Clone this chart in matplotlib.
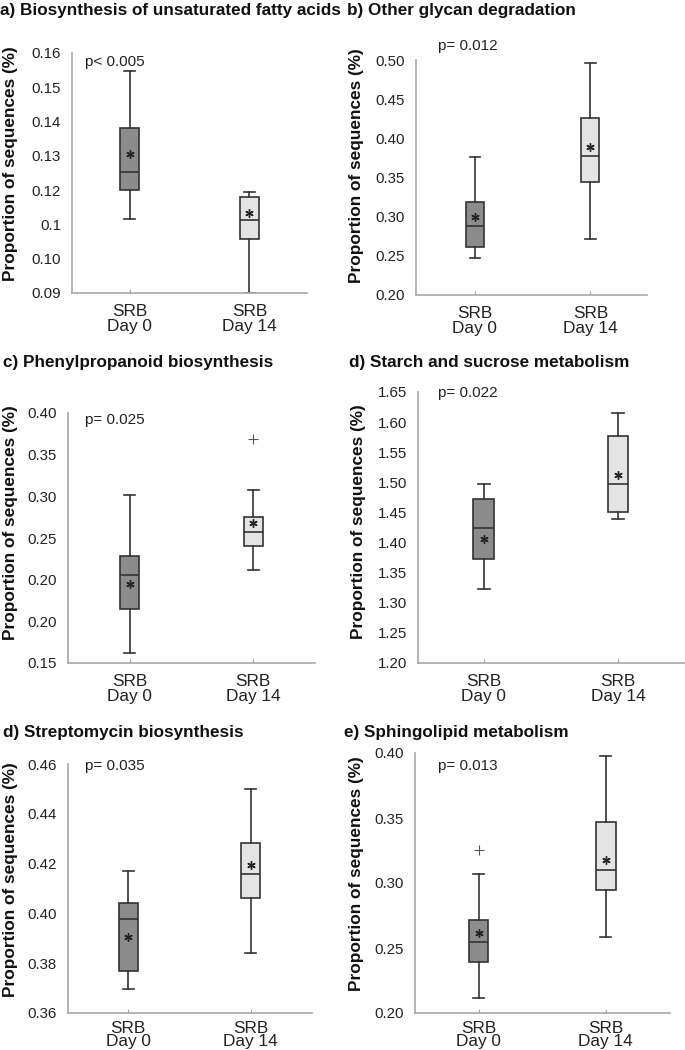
import matplotlib
matplotlib.use("Agg")
import matplotlib.pyplot as plt

plt.rcParams['font.family'] = ['Liberation Sans', 'DejaVu Sans']

W, H = 685, 1050

groups = ["SRB\nDay 0", "SRB\nDay 14"]

# ---- panel data (Day 0, Day 14) ----
titles = ["a) Biosynthesis of unsaturated fatty acids",
          "b) Other glycan degradation",
          "c) Phenylpropanoid biosynthesis",
          "d) Starch and sucrose metabolism",
          "d) Streptomycin biosynthesis",
          "e) Sphingolipid metabolism"]
pvalues = ["p< 0.005", "p= 0.012", "p= 0.025", "p= 0.022", "p= 0.035", "p= 0.013"]

a_whislo = [0.1117, 0.0900]; a_q1 = [0.1200, 0.1057]; a_med = [0.1254, 0.1112]
a_q3 = [0.1380, 0.1181]; a_whishi = [0.1548, 0.1195]; a_mean = [0.1306, 0.1133]
a_fliers = [[], []]
a_ticks = [0.09, 0.10, 0.11, 0.12, 0.13, 0.14, 0.15, 0.16]
a_ticklabels = ["0.09", "0.10", "0.1", "0.12", "0.13", "0.14", "0.15", "0.16"]

b_whislo = [0.2472, 0.2720]; b_q1 = [0.2609, 0.3447]; b_med = [0.2876, 0.3770]
b_q3 = [0.3191, 0.4264]; b_whishi = [0.3766, 0.4966]; b_mean = [0.3000, 0.3890]
b_fliers = [[], []]
b_ticks = [0.20, 0.25, 0.30, 0.35, 0.40, 0.45, 0.50]
b_ticklabels = ["0.20", "0.25", "0.30", "0.35", "0.40", "0.45", "0.50"]

c_whislo = [0.1120, 0.2117]; c_q1 = [0.1654, 0.2404]; c_med = [0.2057, 0.2576]
c_q3 = [0.2285, 0.2755]; c_whishi = [0.3015, 0.3075]; c_mean = [0.1946, 0.2676]
c_fliers = [[], [0.3693]]
c_ticks = [0.10, 0.15, 0.20, 0.25, 0.30, 0.35, 0.40]
c_ticklabels = ["0.15", "0.20", "0.20", "0.25", "0.30", "0.35", "0.40"]

d_whislo = [1.323, 1.439]; d_q1 = [1.3722, 1.4511]; d_med = [1.4235, 1.4965]
d_q3 = [1.4727, 1.5766]; d_whishi = [1.497, 1.6152]; d_mean = [1.406, 1.512]
d_fliers = [[], []]
d_ticks = [1.20, 1.25, 1.30, 1.35, 1.40, 1.45, 1.50, 1.55, 1.60, 1.65]
d_ticklabels = ["1.20", "1.25", "1.30", "1.35", "1.40", "1.45", "1.50", "1.55", "1.60", "1.65"]

e_whislo = [0.3695, 0.3839]; e_q1 = [0.3768, 0.4060]; e_med = [0.3979, 0.4158]
e_q3 = [0.4042, 0.4281]; e_whishi = [0.4170, 0.4500]; e_mean = [0.3906, 0.4194]
e_fliers = [[], []]
e_ticks = [0.36, 0.38, 0.40, 0.42, 0.44, 0.46]
e_ticklabels = ["0.36", "0.38", "0.40", "0.42", "0.44", "0.46"]

f_whislo = [0.2112, 0.2587]; f_q1 = [0.2390, 0.2946]; f_med = [0.2546, 0.3102]
f_q3 = [0.2718, 0.3472]; f_whishi = [0.3072, 0.3980]; f_mean = [0.2615, 0.3179]
f_fliers = [[0.3251], []]
f_ticks = [0.20, 0.25, 0.30, 0.35, 0.40]
f_ticklabels = ["0.20", "0.25", "0.30", "0.35", "0.40"]

panels = [
    (a_whislo, a_q1, a_med, a_q3, a_whishi, a_mean, a_fliers, a_ticks, a_ticklabels),
    (b_whislo, b_q1, b_med, b_q3, b_whishi, b_mean, b_fliers, b_ticks, b_ticklabels),
    (c_whislo, c_q1, c_med, c_q3, c_whishi, c_mean, c_fliers, c_ticks, c_ticklabels),
    (d_whislo, d_q1, d_med, d_q3, d_whishi, d_mean, d_fliers, d_ticks, d_ticklabels),
    (e_whislo, e_q1, e_med, e_q3, e_whishi, e_mean, e_fliers, e_ticks, e_ticklabels),
    (f_whislo, f_q1, f_med, f_q3, f_whishi, f_mean, f_fliers, f_ticks, f_ticklabels),
]

# ---- layout (pixels: left, right, top, bottom) ----
rects = [(72, 307, 53, 293), (416, 647, 60, 295),
         (68, 315, 413, 663), (418, 685, 392, 663),
         (68, 312, 764, 1013), (415, 670, 753, 1013)]
xlims = [(0.52, 2.48), (0.49, 2.49), (0.50, 2.50), (0.51, 2.50), (0.51, 2.50), (0.50, 2.505)]
title_pos = [(0, 11), (347, 11), (3, 363), (349, 363), (3, 732), (344, 732)]
p_pos = [(85, 62), (438, 46), (85, 420), (438, 393), (85, 766), (438, 766)]
ylabel_xy = [(11, 164), (356, 166), (11, 523), (358, 522), (11, 880), (356, 874)]
tick_linespacing = [1.02, 1.02, 1.02, 1.02, 0.84, 0.84]
tick_pad = [8, 8, 8, 8, 6, 6]

fills = ["#8c8c8c", "#e4e4e4"]
edge = "#333333"
spine_col = "#a8a8a8"

fig = plt.figure(figsize=(W / 100, H / 100), dpi=100)

for i, (pn, rc) in enumerate(zip(panels, rects)):
    whislo, q1, med, q3, whishi, mean, fliers, ticks, ticklabels = pn
    l, r, t, b = rc
    ax = fig.add_axes([l / W, 1 - b / H, (r - l) / W, (b - t) / H])
    stats = []
    for k in range(2):
        stats.append(dict(whislo=whislo[k], q1=q1[k], med=med[k], q3=q3[k],
                          whishi=whishi[k], mean=mean[k], fliers=fliers[k]))
    bp = ax.bxp(stats, positions=[1, 2], widths=0.155, patch_artist=True,
                showmeans=True, showfliers=True,
                boxprops=dict(edgecolor=edge, linewidth=1.2),
                medianprops=dict(color=edge, linewidth=1.2),
                whiskerprops=dict(color=edge, linewidth=1.2),
                capprops=dict(color=edge, linewidth=1.2),
                meanprops=dict(marker=(6, 2, 0), markersize=6, markeredgecolor="#222222",
                               markerfacecolor="#222222", markeredgewidth=1.0, linestyle="none"),
                flierprops=dict(marker="+", markersize=7, markeredgecolor="#555555",
                                markeredgewidth=0.8, linestyle="none"))
    for patch, fc in zip(bp["boxes"], fills):
        patch.set_facecolor(fc)
    for cap in bp["caps"]:
        x0, x1 = cap.get_xdata()
        c = (x0 + x1) / 2
        cap.set_xdata([c - 0.045, c + 0.045])
    ax.set_xlim(*xlims[i])
    ax.set_ylim(ticks[0], ticks[-1])
    ax.set_yticks(ticks)
    ax.set_yticklabels(ticklabels)
    ax.set_xticks([1, 2])
    ax.set_xticklabels(groups, linespacing=tick_linespacing[i])
    for s in ["top", "right"]:
        ax.spines[s].set_visible(False)
    for s in ["left", "bottom"]:
        ax.spines[s].set_color(spine_col)
        ax.spines[s].set_linewidth(1.2)
    ax.tick_params(axis="y", length=0, pad=8, labelsize=10.8, labelcolor="#222222")
    ax.tick_params(axis="x", direction="in", length=3, color=spine_col, pad=tick_pad[i],
                   labelsize=12.4, labelcolor="#222222")
    ax.patch.set_alpha(0)
    # titles and p values
    tx, ty = title_pos[i]
    fig.text(tx / W, 1 - ty / H, titles[i], fontsize=12.3, fontweight="bold",
             ha="left", va="center", color="#111111")
    px, py = p_pos[i]
    fig.text(px / W, 1 - py / H, pvalues[i], fontsize=11, ha="left", va="center",
             color="#222222")
    yx, yy = ylabel_xy[i]
    fig.text(yx / W, 1 - yy / H, "Proportion of sequences (%)",
             rotation=90, fontsize=12.4, fontweight="bold", ha="center", va="center",
             color="#111111")

fig.savefig("out.png", dpi=100)
